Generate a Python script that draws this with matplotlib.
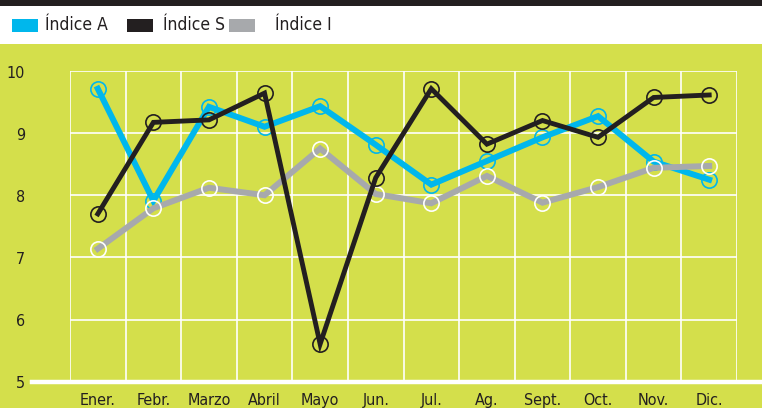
import matplotlib
matplotlib.use("Agg")
import matplotlib.pyplot as plt
from matplotlib.patches import Rectangle
from matplotlib.lines import Line2D
from matplotlib import font_manager

months = ["Ener.", "Febr.", "Marzo", "Abril", "Mayo", "Jun.", "Jul.", "Ag.",
          "Sept.", "Oct.", "Nov.", "Dic."]
indice_a = [9.71, 7.91, 9.42, 9.10, 9.43, 8.81, 8.17, 8.55, 8.93, 9.27, 8.54, 8.25]
indice_s = [7.70, 9.17, 9.21, 9.64, 5.61, 8.28, 9.71, 8.82, 9.20, 8.93, 9.57, 9.61]
indice_i = [7.14, 7.79, 8.12, 8.00, 8.75, 8.02, 7.87, 8.31, 7.88, 8.13, 8.44, 8.47]
y_ticks = [5, 6, 7, 8, 9, 10]
series_names = ["Índice A", "Índice S", "Índice I"]

GREEN = "#d4df4b"
BLUE = "#00b7ec"
BLACK = "#231f20"
GRAY = "#a7a9ac"

# pick a condensed font if available
fonts = font_manager.fontManager.ttflist
cond = [f for f in fonts if ("Narrow" in f.name or "Condensed" in f.name
                             or "condensed" in str(f.stretch)) and "Bold" not in f.fname
        and "Oblique" not in f.fname and "Italic" not in f.fname]
if cond:
    FP = font_manager.FontProperties(fname=cond[0].fname)
else:
    FP = font_manager.FontProperties(family="Liberation Sans")

W, H = 762, 408
fig = plt.figure(figsize=(W / 100, H / 100), dpi=100, facecolor="white")

def fx(px):
    return px / W

def fy(py):
    return 1 - py / H

def fp(size):
    p = FP.copy()
    p.set_size(size)
    return p

# backgrounds
fig.patches.append(Rectangle((0, 0), 1, fy(44), transform=fig.transFigure,
                             facecolor=GREEN, edgecolor="none", zorder=-5))
fig.patches.append(Rectangle((0, fy(6)), 1, 6 / H, transform=fig.transFigure,
                             facecolor=BLACK, edgecolor="none", zorder=-5))

# legend
leg_items = [(12, 45, BLUE), (127, 163, BLACK), (229, 275, GRAY)]
for (rx, tx, col), name in zip(leg_items, series_names):
    fig.patches.append(Rectangle((fx(rx), fy(32)), 26 / W, 13 / H,
                                 transform=fig.transFigure, facecolor=col,
                                 edgecolor="none", zorder=1))
    fig.text(fx(tx), fy(25), name, fontproperties=fp(12.5), color=BLACK,
             va="center", ha="left")

left, right = 70, 737
top, bottom = 70.7, 382
ax = fig.add_axes([fx(left), fy(bottom), (right - left) / W, (bottom - top) / H])
ax.set_zorder(2)
ax.set_facecolor("none")
ax.set_xlim(-0.5, 11.5)
ax.set_ylim(5, 10)
for s in ax.spines.values():
    s.set_visible(False)
ax.set_xticks([])
ax.set_yticks([])

# grid
for xv in [i - 0.5 for i in range(13)]:
    ax.axvline(xv, color="white", lw=1.2, zorder=0.5)
for yv in y_ticks[1:]:
    ax.axhline(yv, color="white", lw=1.2, zorder=0.5)

# bottom axis line
fig.lines.append(Line2D([fx(32), 1], [fy(bottom), fy(bottom)],
                        transform=fig.transFigure, color="white", lw=3.2,
                        zorder=3))

xs = list(range(len(months)))
ax.plot(xs, indice_a, color=BLUE, lw=4.3, marker="o", ms=11, mfc="none",
        mec=BLUE, mew=1.2, zorder=3, clip_on=False, solid_joinstyle="miter")
ax.plot(xs, indice_i, color=GRAY, lw=4.3, marker="o", ms=11, mfc="none",
        mec="white", mew=1.2, zorder=4, clip_on=False, solid_joinstyle="miter")
ax.plot(xs, indice_s, color=BLACK, lw=3.5, marker="o", ms=11, mfc="none",
        mec=BLACK, mew=1.2, zorder=5, clip_on=False, solid_joinstyle="miter")

# tick labels
for yv in y_ticks:
    fig.text(fx(25), fy(bottom - (yv - 5) * 62.2 + 2), str(yv),
             fontproperties=fp(11.5), color=BLACK, ha="right", va="center")
for i, m in enumerate(months):
    ax.text(i, 5 - 10.5 / 62.2, m, fontproperties=fp(11.5), color=BLACK,
            ha="center", va="top", clip_on=False)

fig.savefig("out.png", dpi=100, facecolor="white")
